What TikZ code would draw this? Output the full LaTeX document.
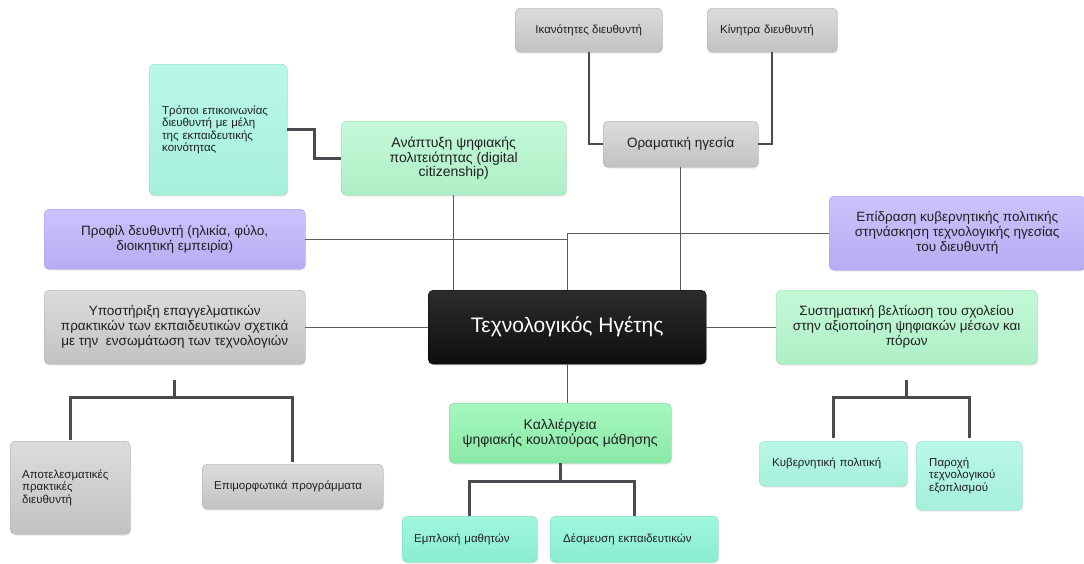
\documentclass[tikz,border=0pt]{standalone}
\usepackage{fontspec}
\setmainfont{Liberation Sans}
\usetikzlibrary{shadows,calc}
\definecolor{grT}{HTML}{DCDCDC}\definecolor{grB}{HTML}{C2C2C2}\definecolor{grD}{HTML}{A8A8A8}
\definecolor{miT}{HTML}{BAF8E7}\definecolor{miB}{HTML}{A6F0DB}\definecolor{miD}{HTML}{8FDFC8}
\definecolor{mxT}{HTML}{A0F7DE}\definecolor{mxB}{HTML}{8AEDD0}\definecolor{mxD}{HTML}{74DCBE}
\definecolor{gnT}{HTML}{C4F9D8}\definecolor{gnB}{HTML}{AEEFC6}\definecolor{gnD}{HTML}{97DFB0}
\definecolor{kaT}{HTML}{A6F7C0}\definecolor{kaB}{HTML}{8AE9A6}\definecolor{kaD}{HTML}{74D493}
\definecolor{puT}{HTML}{CBC3FC}\definecolor{puB}{HTML}{B6ACF3}\definecolor{puD}{HTML}{A197E4}
\definecolor{bkT}{HTML}{2C2C2C}\definecolor{bkB}{HTML}{0E0E0E}
\definecolor{lnC}{HTML}{5A5A5E}\definecolor{brC}{HTML}{4A4A50}
\begin{document}
\begin{tikzpicture}[x=1pt,y=-1pt,
  base/.style={rounded corners=5pt, anchor=north west, inner sep=0pt,
    drop shadow={opacity=0.18,shadow xshift=1pt,shadow yshift=-1.5pt},
    font=\fontsize{13.5}{15}\selectfont, align=center, text=black!88},
  small/.style={font=\fontsize{11.5}{12.5}\selectfont},
  grayb/.style={base, top color=grT, bottom color=grB, draw=grD},
  mintb/.style={base, top color=miT, bottom color=miB, draw=miD},
  mintx/.style={base, top color=mxT, bottom color=mxB, draw=mxD},
  greenb/.style={base, top color=gnT, bottom color=gnB, draw=gnD},
  kalb/.style={base, top color=kaT, bottom color=kaB, draw=kaD},
  purpb/.style={base, top color=puT, bottom color=puB, draw=puD},
  blackb/.style={base, top color=bkT, bottom color=bkB, draw=black, text=white,
    font=\fontsize{21}{23}\selectfont},
  conn/.style={draw=lnC, line width=1.3pt},
  mid/.style={draw=brC, line width=2pt},
  bracket/.style={draw=brC, line width=3pt}
]
\useasboundingbox (0,0) rectangle (1084,563);
\fill[white] (0,0) rectangle (1084,563);

% nodes
\node[grayb, small, minimum width=147pt, minimum height=44pt] (ik) at (515,8) {Ικανότητες διευθυντή};
\node[grayb, small, minimum width=130pt, minimum height=44pt, align=left, text width=104pt] (ki) at (707,8) {Κίνητρα διευθυντή};
\node[grayb, minimum width=155pt, minimum height=46pt] (ora) at (603,121) {Οραματική ηγεσία};
\node[mintb, small, minimum width=138pt, minimum height=131pt, align=left, text width=112pt] (tr) at (149,64) {Τρόποι επικοινωνίας\\διευθυντή με μέλη\\της εκπαιδευτικής\\κοινότητας};
\node[greenb, font=\fontsize{14}{14.5}\selectfont, minimum width=225pt, minimum height=74pt] (an) at (341,121) {Ανάπτυξη ψηφιακής\\πολιτειότητας (digital\\citizenship)};
\node[purpb, minimum width=261pt, minimum height=60pt] (prof) at (44,209) {Προφίλ δευθυντή (ηλικία, φύλο,\\διοικητική εμπειρία)};
\node[purpb, minimum width=256pt, minimum height=74pt] (epi) at (829,196) {Επίδραση κυβερνητικής πολιτικής\\στηνάσκηση τεχνολογικής ηγεσίας\\του διευθυντή};
\node[grayb, minimum width=261pt, minimum height=74pt] (ypo) at (44,290) {Υποστήριξη επαγγελματικών\\πρακτικών των εκπαιδευτικών σχετικά\\με την \ ενσωμάτωση των τεχνολογιών};
\node[blackb, minimum width=278pt, minimum height=74pt] (tech) at (428,290) {Τεχνολογικός Ηγέτης};
\node[greenb, minimum width=261pt, minimum height=74pt] (sys) at (776,290) {Συστηματική βελτίωση του σχολείου\\στην αξιοποίηση ψηφιακών μέσων και\\πόρων};
\node[kalb, font=\fontsize{14}{15}\selectfont, minimum width=222pt, minimum height=60pt] (kal) at (449,403) {Καλλιέργεια\\ψηφιακής κουλτούρας μάθησης};
\node[grayb, small, minimum width=120pt, minimum height=93pt, align=left, text width=96pt] (apo) at (10,441) {Αποτελεσματικές\\πρακτικές\\διευθυντή};
\node[grayb, small, minimum width=181pt, minimum height=45pt, align=left, text width=157pt] (epim) at (202,464) {Επιμορφωτικά προγράμματα};
\node[mintb, small, minimum width=148pt, minimum height=45pt, align=left, text width=122pt] (kyv) at (759,441) {Κυβερνητική πολιτική};
\node[mintb, small, minimum width=106pt, minimum height=69pt, align=left, text width=80pt] (par) at (916,441) {Παροχή\\τεχνολογικού\\εξοπλισμού};
\node[mintx, small, minimum width=135pt, minimum height=46pt, align=left, text width=111pt] (emp) at (402,516) {Εμπλοκή μαθητών};
\node[mintx, small, minimum width=168pt, minimum height=46pt, align=left, text width=142pt] (des) at (550,516) {Δέσμευση εκπαιδευτικών};

% connectors
\draw[mid] (ik.south) |- (ora.west);
\draw[mid] (ki.south) |- (ora.east);
\draw[bracket] (tr.east) -- ++(27,0) |- (an.west);
\draw[conn] (an.south) -- (an.south |- tech.north);
\draw[conn] (ora.south) -- (ora.south |- tech.north);
\draw[conn] (prof.east) -| (tech.north);
\draw[conn] (epi.west) -| (tech.north);
\draw[conn] (ypo.east) -- (tech.west);
\draw[conn] (tech.east) -- (sys.west);
\draw[conn] (tech.south) -- (tech.south |- kal.north);

% brackets
\coordinate (ys) at ($(ypo.south)+(0,16)$);
\coordinate (yb) at ($(ys)+(0,17)$);
\draw[bracket] (ys) -- (yb);
\draw[bracket] ($(apo.north)+(0,-1)$) |- (yb) -| ($(epim.north)+(0,-2)$);

\coordinate (kb) at ($(kal.south)+(0,18)$);
\draw[bracket] (kal.south) -- (kb);
\draw[bracket] (emp.north) |- (kb) -| (des.north);

\coordinate (ss) at ($(sys.south)+(0,16)$);
\coordinate (sb) at ($(ss)+(0,17)$);
\draw[bracket] (ss) -- (sb);
\draw[bracket] ($(kyv.north)+(0,-3)$) |- (sb) -| ($(par.north)+(0,-3)$);
\end{tikzpicture}
\end{document}
